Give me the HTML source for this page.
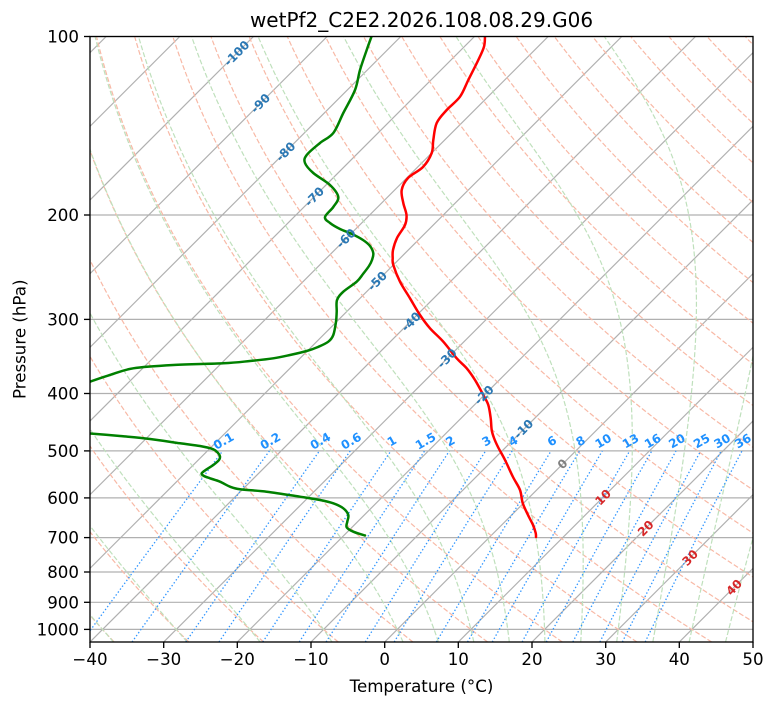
<!DOCTYPE html>
<html><head><meta charset="utf-8">
<style>
html,body{margin:0;padding:0;background:#fff;}
svg{display:block;}
text{font-family:"DejaVu Sans","Liberation Sans",sans-serif;}
</style></head>
<body>
<svg id="s" width="775" height="708" viewBox="0 0 775 708" xmlns="http://www.w3.org/2000/svg">
<defs><clipPath id="c"><rect x="90" y="36.5" width="663" height="605.5"/></clipPath></defs>
<rect width="775" height="708" fill="#fff"/>
<g clip-path="url(#c)">
  <g id="hgrid" stroke="#b0b0b0" stroke-width="1.2" fill="none">
    <line x1="90" x2="753" y1="36.5" y2="36.5"/>
    <line x1="90" x2="753" y1="215.0" y2="215.0"/>
    <line x1="90" x2="753" y1="319.4" y2="319.4"/>
    <line x1="90" x2="753" y1="393.5" y2="393.5"/>
    <line x1="90" x2="753" y1="450.9" y2="450.9"/>
    <line x1="90" x2="753" y1="497.9" y2="497.9"/>
    <line x1="90" x2="753" y1="537.6" y2="537.6"/>
    <line x1="90" x2="753" y1="572.0" y2="572.0"/>
    <line x1="90" x2="753" y1="602.3" y2="602.3"/>
    <line x1="90" x2="753" y1="629.4" y2="629.4"/>
  </g>
  <g id="iso" stroke="#b0b0b0" stroke-width="1.2" fill="none">
    <line x1="-499.3" y1="642" x2="106.2" y2="36.5"/>
    <line x1="-425.7" y1="642" x2="179.8" y2="36.5"/>
    <line x1="-352" y1="642" x2="253.5" y2="36.5"/>
    <line x1="-278.3" y1="642" x2="327.2" y2="36.5"/>
    <line x1="-204.7" y1="642" x2="400.8" y2="36.5"/>
    <line x1="-131" y1="642" x2="474.5" y2="36.5"/>
    <line x1="-57.3" y1="642" x2="548.2" y2="36.5"/>
    <line x1="16.3" y1="642" x2="621.8" y2="36.5"/>
    <line x1="90" y1="642" x2="695.5" y2="36.5"/>
    <line x1="163.7" y1="642" x2="769.2" y2="36.5"/>
    <line x1="237.3" y1="642" x2="842.8" y2="36.5"/>
    <line x1="311" y1="642" x2="916.5" y2="36.5"/>
    <line x1="384.7" y1="642" x2="990.2" y2="36.5"/>
    <line x1="458.3" y1="642" x2="1063.8" y2="36.5"/>
    <line x1="532" y1="642" x2="1137.5" y2="36.5"/>
    <line x1="605.7" y1="642" x2="1211.2" y2="36.5"/>
    <line x1="679.3" y1="642" x2="1284.8" y2="36.5"/>
  </g>
  <g id="dry" stroke="#f8b9a6" stroke-width="1.2" fill="none" stroke-dasharray="5,2.2"></g>
  <g id="moist" stroke="#bfe0bc" stroke-width="1.2" fill="none" stroke-dasharray="5,2.2"></g>
  <g id="mix" stroke="#2f95ff" stroke-width="1.3" fill="none" stroke-dasharray="1.4,2.2"></g>

  <polyline class="sm" fill="none" stroke="#ff0000" stroke-width="2.5" stroke-linejoin="round" stroke-linecap="round"
    points="485,36 484,46.7 478.3,60 468.3,80 460,96.7 446.7,110 436.7,123 433.3,140 431.7,153 423,167 408,178 401.7,190 403.3,203 406.5,215 405,225 397,238 393,250 392.7,258 393.3,265 400,281.7 410,298.3 420,315 430,328.3 443.3,341.7 456.7,358.3 466.7,368.3 475,380 483.3,395 488.3,405 490.7,418.3 491.7,430 494,438 498,447 505,460 513,477 520,490 522.7,503 528,515 533,525 535.7,533 536,537"/>

  <polyline class="sm" fill="none" stroke="#008000" stroke-width="2.5" stroke-linejoin="round" stroke-linecap="round"
    points="371.7,36 366.7,50 360,70 355,90 343.3,113 333.3,133 320,143 306.7,155 305,163 313.3,173 330,185 338.3,197 333.3,207 325,217 330,223 340,229 352,234 363,240 370,246 373.3,253.3 372,260 369,266 363,274 356.7,281.7 343.3,291.7 337,300 336.7,311.7 336,321.7 333.3,335 328.3,341.7 318,347 306.7,351 290,355 273.3,358.3 250,361 223.3,363.3 173.3,365 133.3,368.3 110,375 90,381.7 40,400 40,430 90,433.5 120,436 150,439 180,443.3 200,446 213.3,449.3 218.3,453.3 220,456.5 219,460 213.3,465 206.7,469.3 201.7,473.3 204,476 210,478.3 220,481.7 230,486.7 240,489.3 266.7,491.7 300,496.7 320,500 333.3,503.3 343.3,508.3 348.3,515 347.3,521.7 346.7,527.3 353.3,531.7 365,535.5"/>
</g>

<!-- isotherm labels -->
<g font-size="12" font-weight="bold" text-anchor="middle">
  <text fill="#2b78b4" transform="translate(236.7,53.3) rotate(-45)" dy="0.35em">-100</text>
  <text fill="#2b78b4" transform="translate(260.4,103.3) rotate(-45)" dy="0.35em">-90</text>
  <text fill="#2b78b4" transform="translate(285.6,151.7) rotate(-45)" dy="0.35em">-80</text>
  <text fill="#2b78b4" transform="translate(314.3,196.7) rotate(-45)" dy="0.35em">-70</text>
  <text fill="#2b78b4" transform="translate(346,238.3) rotate(-45)" dy="0.35em">-60</text>
  <text fill="#2b78b4" transform="translate(377.3,281) rotate(-45)" dy="0.35em">-50</text>
  <text fill="#2b78b4" transform="translate(411,321.7) rotate(-45)" dy="0.35em">-40</text>
  <text fill="#2b78b4" transform="translate(447,358.3) rotate(-45)" dy="0.35em">-30</text>
  <text fill="#2b78b4" transform="translate(484,395) rotate(-45)" dy="0.35em">-20</text>
  <text fill="#2b78b4" transform="translate(523.5,429) rotate(-45)" dy="0.35em">-10</text>
  <text fill="#808080" transform="translate(562.5,464) rotate(-45)" dy="0.35em">0</text>
  <text fill="#d62728" transform="translate(603,497.3) rotate(-45)" dy="0.35em">10</text>
  <text fill="#d62728" transform="translate(645.7,528.3) rotate(-45)" dy="0.35em">20</text>
  <text fill="#d62728" transform="translate(690,557.7) rotate(-45)" dy="0.35em">30</text>
  <text fill="#d62728" transform="translate(734,587.3) rotate(-45)" dy="0.35em">40</text>
</g>

<!-- mixing ratio labels -->
<g font-size="12" font-weight="bold" text-anchor="middle" fill="#1e90ff">
  <text transform="translate(223.5,441) rotate(-30)" dy="0.35em">0.1</text>
  <text transform="translate(270.3,441) rotate(-30)" dy="0.35em">0.2</text>
  <text transform="translate(320.3,441) rotate(-30)" dy="0.35em">0.4</text>
  <text transform="translate(351.1,441) rotate(-30)" dy="0.35em">0.6</text>
  <text transform="translate(391.8,441) rotate(-30)" dy="0.35em">1</text>
  <text transform="translate(425.5,441) rotate(-30)" dy="0.35em">1.5</text>
  <text transform="translate(450.3,441) rotate(-30)" dy="0.35em">2</text>
  <text transform="translate(486.5,441) rotate(-30)" dy="0.35em">3</text>
  <text transform="translate(513.1,441) rotate(-30)" dy="0.35em">4</text>
  <text transform="translate(551.9,441) rotate(-30)" dy="0.35em">6</text>
  <text transform="translate(580.5,441) rotate(-30)" dy="0.35em">8</text>
  <text transform="translate(603.2,441) rotate(-30)" dy="0.35em">10</text>
  <text transform="translate(630.5,441) rotate(-30)" dy="0.35em">13</text>
  <text transform="translate(652.6,441) rotate(-30)" dy="0.35em">16</text>
  <text transform="translate(676.9,441) rotate(-30)" dy="0.35em">20</text>
  <text transform="translate(701.6,441) rotate(-30)" dy="0.35em">25</text>
  <text transform="translate(722.1,441) rotate(-30)" dy="0.35em">30</text>
  <text transform="translate(742.9,441) rotate(-30)" dy="0.35em">36</text>
</g>

<!-- frame -->
<rect x="90" y="36.5" width="663" height="605.5" fill="none" stroke="#000" stroke-width="1.33"/>

<!-- ticks -->
<g stroke="#000" stroke-width="1.33">
  <line x1="90" y1="642" x2="90" y2="648"/>
  <line x1="163.7" y1="642" x2="163.7" y2="648"/>
  <line x1="237.3" y1="642" x2="237.3" y2="648"/>
  <line x1="311" y1="642" x2="311" y2="648"/>
  <line x1="384.7" y1="642" x2="384.7" y2="648"/>
  <line x1="458.3" y1="642" x2="458.3" y2="648"/>
  <line x1="532" y1="642" x2="532" y2="648"/>
  <line x1="605.7" y1="642" x2="605.7" y2="648"/>
  <line x1="679.3" y1="642" x2="679.3" y2="648"/>
  <line x1="753" y1="642" x2="753" y2="648"/>
  <line x1="84" y1="36.5" x2="90" y2="36.5"/>
  <line x1="84" y1="215" x2="90" y2="215"/>
  <line x1="84" y1="319.4" x2="90" y2="319.4"/>
  <line x1="84" y1="393.5" x2="90" y2="393.5"/>
  <line x1="84" y1="450.9" x2="90" y2="450.9"/>
  <line x1="84" y1="497.9" x2="90" y2="497.9"/>
  <line x1="84" y1="537.6" x2="90" y2="537.6"/>
  <line x1="84" y1="572" x2="90" y2="572"/>
  <line x1="84" y1="602.3" x2="90" y2="602.3"/>
  <line x1="84" y1="629.4" x2="90" y2="629.4"/>
</g>

<g font-size="16.67" fill="#000" text-anchor="middle">
  <text x="90" y="665">−40</text>
  <text x="163.7" y="665">−30</text>
  <text x="237.3" y="665">−20</text>
  <text x="311" y="665">−10</text>
  <text x="384.7" y="665">0</text>
  <text x="458.3" y="665">10</text>
  <text x="532" y="665">20</text>
  <text x="605.7" y="665">30</text>
  <text x="679.3" y="665">40</text>
  <text x="753" y="665">50</text>
</g>
<g font-size="16.67" fill="#000" text-anchor="end">
  <text x="79" y="42.5">100</text>
  <text x="79" y="221">200</text>
  <text x="79" y="325.4">300</text>
  <text x="79" y="399.5">400</text>
  <text x="79" y="456.9">500</text>
  <text x="79" y="503.9">600</text>
  <text x="79" y="543.6">700</text>
  <text x="79" y="578">800</text>
  <text x="79" y="608.3">900</text>
  <text x="79" y="635.4">1000</text>
</g>

<text x="421.5" y="692" font-size="16.67" text-anchor="middle" fill="#000">Temperature (°C)</text>
<text transform="translate(25.5,339.3) rotate(-90)" font-size="16.67" text-anchor="middle" fill="#000">Pressure (hPa)</text>
<text x="421.5" y="27" font-size="20" text-anchor="middle" fill="#000">wetPf2_C2E2.2026.108.08.29.G06</text>
</svg>

<script>
(function(){
  var NS="http://www.w3.org/2000/svg";
  var YT=36.5, YB=642, KY=592.94, KX=663/90;
  function Yp(p){return YT+KY*Math.log10(p/100);}
  function Xt(T,p){return 90+KX*(T+40)+(YB-Yp(p));}
  function addPath(g,pts){
    var d="M"+pts.map(function(q){return q[0].toFixed(2)+","+q[1].toFixed(2);}).join("L");
    var e=document.createElementNS(NS,"path");
    e.setAttribute("d",d);
    g.appendChild(e);
  }
  // dry adiabats
  var gd=document.getElementById("dry");
  var ps=[];
  for(var i=0;i<=90;i++){ps.push(1050*Math.pow(100/1050,i/90));}
  var kap=287.04749/1004.666;
  for(var t0=-100;t0<=260;t0+=10){
    var th=t0+273.15;
    addPath(gd, ps.map(function(p){return [Xt(th*Math.pow(p/1000,kap)-273.15,p),Yp(p)];}));
  }
  // moist adiabats
  function dTdp(p,T){
    var Rd=287.04749, Cp=1004.666, Lv=2.50084e6, eps=0.6219569;
    var es=6.112*Math.exp(17.67*(T-273.15)/(T-29.65));
    var rs=eps*es/(p-es);
    return (1/p)*(Rd*T+Lv*rs)/(Cp+(Lv*Lv*rs*eps)/(Rd*T*T));
  }
  function rk(p,T,h){
    var k1=dTdp(p,T), k2=dTdp(p+h/2,T+h/2*k1), k3=dTdp(p+h/2,T+h/2*k2), k4=dTdp(p+h,T+h*k3);
    return T+h/6*(k1+2*k2+2*k3+k4);
  }
  var gm=document.getElementById("moist");
  var mt=[-40,-30,-20,-10,0,5,10,15,20,25,30,35,40,45,50];
  mt.forEach(function(t0){
    var T=t0+273.15, p=1000;
    var dn=[];
    while(p<1050){T=rk(p,T,2);p+=2;dn.unshift([p,T]);}
    T=t0+273.15;p=1000;
    var up=[[1000,T]];
    while(p>100){T=rk(p,T,-2);p-=2;up.push([p,T]);}
    var all=dn.concat(up);
    addPath(gm, all.map(function(q){return [Xt(q[1]-273.15,q[0]),Yp(q[0])];}));
  });
  // mixing lines
  var gx=document.getElementById("mix");
  var ws=[0.1,0.2,0.4,0.6,1,1.5,2,3,4,6,8,10,13,16,20,25,30,36];
  ws.forEach(function(w){
    var pts=[];
    for(var i=0;i<=30;i++){
      var p=1050-(550*i/30);
      var e=p*w/(621.9569+w);
      var L=Math.log(e/6.112);
      var Td=243.5*L/(17.67-L);
      pts.push([Xt(Td,p),Yp(p)]);
    }
    addPath(gx,pts);
  });
  // smooth data polylines (Catmull-Rom -> Bezier)
  var pls=document.querySelectorAll("polyline.sm");
  Array.prototype.forEach.call(pls,function(pl){
    var raw=pl.getAttribute("points").trim().split(/\s+/).map(function(s){var a=s.split(",");return [parseFloat(a[0]),parseFloat(a[1])];});
    var d="M"+raw[0][0]+","+raw[0][1];
    for(var i=0;i<raw.length-1;i++){
      var p0=raw[i>0?i-1:0], p1=raw[i], p2=raw[i+1], p3=raw[i+2<raw.length?i+2:raw.length-1];
      var c1x=p1[0]+(p2[0]-p0[0])/6, c1y=p1[1]+(p2[1]-p0[1])/6;
      var c2x=p2[0]-(p3[0]-p1[0])/6, c2y=p2[1]-(p3[1]-p1[1])/6;
      d+="C"+c1x.toFixed(2)+","+c1y.toFixed(2)+" "+c2x.toFixed(2)+","+c2y.toFixed(2)+" "+p2[0]+","+p2[1];
    }
    var e=document.createElementNS(NS,"path");
    e.setAttribute("d",d);
    ["fill","stroke","stroke-width","stroke-linejoin","stroke-linecap"].forEach(function(a){e.setAttribute(a,pl.getAttribute(a));});
    pl.parentNode.replaceChild(e,pl);
  });
})();
</script>
</body>
</html>
